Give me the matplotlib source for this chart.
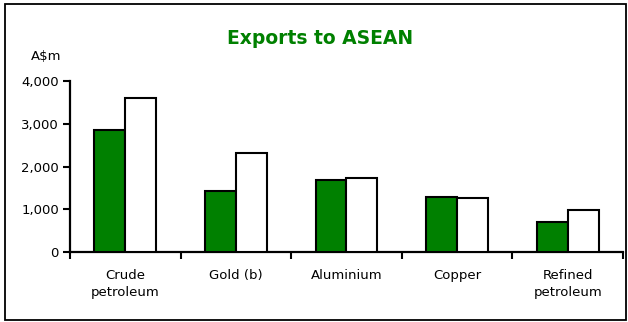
import matplotlib
matplotlib.use("Agg")
import matplotlib.pyplot as plt
import numpy as np

plt.rcParams['font.family'] = ['DejaVu Sans']

# Datos (A$m)
categorias = ['Crude\npetroleum', 'Gold (b)', 'Aluminium', 'Copper', 'Refined\npetroleum']
serie_verde = [2850, 1430, 1685, 1285, 700]
serie_blanca = [3600, 2320, 1730, 1265, 980]
yticks = [0, 1000, 2000, 3000, 4000]
ytick_labels = ['0', '1,000', '2,000', '3,000', '4,000']

verde = '#008000'

fig = plt.figure(figsize=(6.28, 3.22), dpi=100)
ax = fig.add_axes([0.1115, 0.2174, 0.8805, 0.5306])

x = np.arange(len(categorias))
w = 0.28
ax.bar(x - w / 2, serie_verde, w, color=verde, edgecolor='black', linewidth=1.5, zorder=3)
ax.bar(x + w / 2, serie_blanca, w, color='white', edgecolor='black', linewidth=1.5, zorder=3)

ax.set_xlim(-0.5, len(categorias) - 0.5)
ax.set_ylim(0, 4000)
ax.set_yticks(yticks)
ax.set_yticklabels(ytick_labels, fontsize=9.5)
ax.set_xticks(np.arange(len(categorias) + 1) - 0.5)
ax.set_xticklabels([])
ax.set_xticks(x, minor=True)
ax.set_xticklabels(categorias, minor=True, fontsize=9.5, linespacing=1.45)
ax.tick_params(axis='x', which='minor', length=0, pad=12)
ax.tick_params(axis='x', which='major', length=5, width=1.5, direction='out')
ax.tick_params(axis='y', length=5, width=1.5, direction='out', pad=3)

for s in ['top', 'right']:
    ax.spines[s].set_visible(False)
for s in ['left', 'bottom']:
    ax.spines[s].set_linewidth(1.6)

fig.text(0.51, 0.879, 'Exports to ASEAN', color=verde, fontsize=13.5,
         fontweight='bold', ha='center', va='center')
fig.text(0.073, 0.826, 'A$m', fontsize=9.5, ha='center', va='center')

# marco de la figura
borde = plt.Rectangle((0.008, 0.006), 0.989, 0.982, transform=fig.transFigure,
                      fill=False, edgecolor='black', linewidth=1.3)
fig.patches.append(borde)

fig.savefig('out.png', dpi=100)
